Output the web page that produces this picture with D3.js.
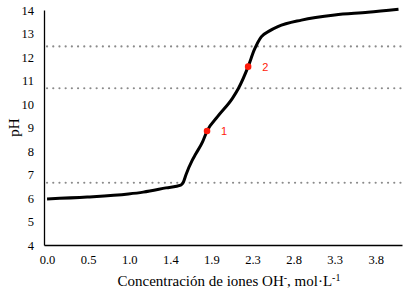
<!DOCTYPE html>
<html>
<head>
<meta charset="utf-8">
<script src="https://cdn.jsdelivr.net/npm/d3@7"></script>
<style>
  body { margin: 0; background: #fff; }
  text { font-family: "Liberation Serif", "Times New Roman", serif; }
</style>
</head>
<body>
<div id="chart"></div>
<script>
// titration curve
let conc = [0.0, 0.46, 0.93, 1.10, 1.36, 1.53, 1.56, 1.59, 1.66, 1.70, 1.78, 1.83, 1.95, 2.12, 2.19, 2.30, 2.37, 2.45, 2.54, 2.64, 2.91, 3.29, 3.67, 4.02]
let ph = [5.96, 6.04, 6.17, 6.25, 6.43, 6.55, 6.68, 7.0, 7.6, 7.87, 8.4, 8.85, 9.46, 10.24, 10.67, 11.59, 12.3, 12.86, 13.1, 13.29, 13.57, 13.79, 13.9, 14.03]
let markConc = [1.83, 2.30]
let markPh = [8.85, 11.59]
let markLabels = ["1", "2"]
let refLines = [6.65, 10.67, 12.45]
let xTickVals = [0, 0.47, 0.94, 1.41, 1.88, 2.35, 2.82, 3.29, 3.76]
let xTickLabels = ["0.0", "0.5", "1.0", "1.4", "1.9", "2.3", "2.8", "3.3", "3.8"]
let yTicks = [4, 5, 6, 7, 8, 9, 10, 11, 12, 13, 14]

let margin = {top: 10, right: 4, bottom: 49, left: 44},
    width = 406 - margin.left - margin.right,
    height = 294 - margin.top - margin.bottom;

let svg = d3.select("#chart")
  .append("svg")
    .attr("width", 406)
    .attr("height", 294)
  .append("g")
    .attr("transform", "translate(" + margin.left + "," + margin.top + ")");

let x = d3.scaleLinear().domain([-0.035, 4.06]).range([0, width]);
let y = d3.scaleLinear().domain([4, 14]).range([height, 0]);

// dotted reference lines
svg.selectAll(".ref")
  .data(refLines)
  .enter().append("line")
    .attr("x1", x(0))
    .attr("x2", width)
    .attr("y1", d => y(d))
    .attr("y2", d => y(d))
    .attr("stroke", "#8a8a8a")
    .attr("stroke-width", 2.2)
    .attr("stroke-linecap", "round")
    .attr("stroke-dasharray", "0,6.2");

// axes (no tick marks, just the lines)
let xAxis = svg.append("g")
  .attr("transform", "translate(0," + height + ")")
  .call(d3.axisBottom(x).tickValues(xTickVals).tickSize(0).tickPadding(10)
    .tickFormat((d, i) => xTickLabels[i]));
let yAxis = svg.append("g")
  .call(d3.axisLeft(y).tickValues(yTicks).tickSize(0).tickPadding(10).tickFormat(d3.format("d")));

[xAxis, yAxis].forEach(a => {
  a.select(".domain").attr("stroke", "#000").attr("stroke-width", 1.3);
  a.selectAll("text")
    .style("font-family", "'Liberation Serif', serif")
    .style("font-size", "12.5px")
    .attr("fill", "#000");
});

// curve
let pts = conc.map((c, i) => ({c: c, p: ph[i]}));
let line = d3.line()
  .x(d => x(d.c))
  .y(d => y(d.p))
  .curve(d3.curveMonotoneX);

svg.append("path")
  .attr("d", line(pts))
  .attr("fill", "none")
  .attr("stroke", "#000")
  .attr("stroke-width", 3);

// marked points
svg.selectAll(".mk")
  .data(markConc)
  .enter().append("circle")
    .attr("cx", d => x(d))
    .attr("cy", (d, i) => y(markPh[i]))
    .attr("r", 3.3)
    .attr("fill", "#ff1a0a");

svg.selectAll(".mkl")
  .data(markConc)
  .enter().append("text")
    .attr("x", d => x(d) + 14)
    .attr("y", (d, i) => y(markPh[i]) + 4)
    .style("font-family", "'Liberation Sans', Arial, sans-serif")
    .style("font-size", "11px")
    .attr("fill", "#ff1a0a")
    .text((d, i) => markLabels[i]);

// axis titles
svg.append("text")
  .attr("transform", "translate(" + (-25.5) + "," + (height / 2) + ") rotate(-90)")
  .style("text-anchor", "middle")
  .style("font-size", "15px")
  .text("pH");

let xt = svg.append("text")
  .attr("x", width / 2 + 6)
  .attr("y", height + 41)
  .style("text-anchor", "middle")
  .style("font-size", "15px");
xt.append("tspan").text("Concentración de iones OH");
xt.append("tspan").attr("dy", -5).style("font-size", "10px").text("-");
xt.append("tspan").attr("dy", 5).text(", mol·L");
xt.append("tspan").attr("dy", -5).style("font-size", "10px").text("-1");
</script>
</body>
</html>
